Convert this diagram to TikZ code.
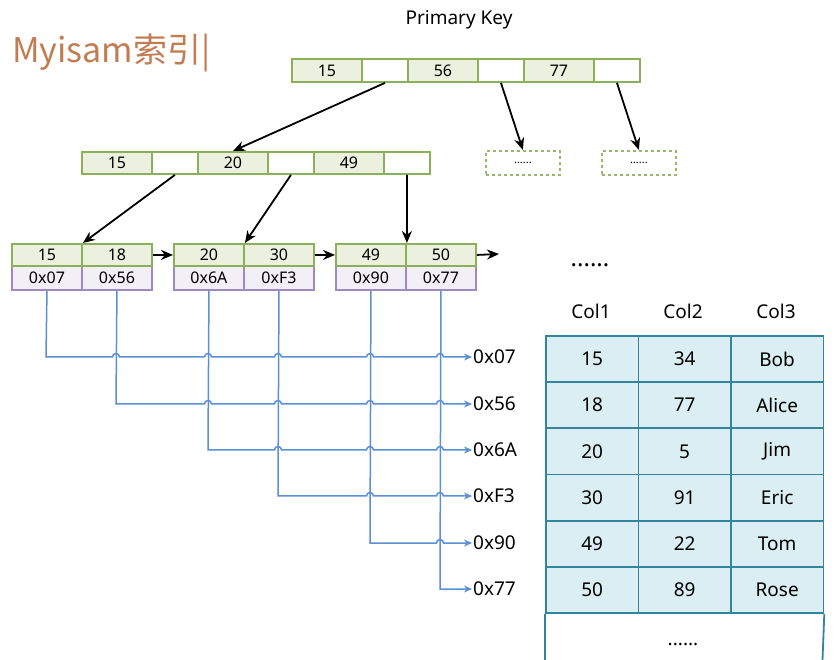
\documentclass[tikz,border=0pt]{standalone}
\usepackage{fontspec}
\setmainfont{Noto Sans}
\newfontfamily\cjk{Noto Sans CJK SC}
\usepackage{tikz}
\usetikzlibrary{arrows.meta}

\definecolor{kgreen}{HTML}{8CB05A}
\definecolor{kfill}{HTML}{EBF1DE}
\definecolor{apurple}{HTML}{9F8AC0}
\definecolor{afill}{HTML}{F2EFF7}
\definecolor{tborder}{HTML}{31859C}
\definecolor{tfill}{HTML}{DAEEF3}
\definecolor{pline}{HTML}{5B8FD6}
\definecolor{ttl}{HTML}{C27C52}

\tikzset{
  cell/.style={draw=kgreen, line width=1.9pt, anchor=north west, inner sep=0pt, minimum height=23pt, font=\fontsize{16}{16}\selectfont},
  kcell/.style={cell, fill=kfill, minimum width=70pt},
  pcell/.style={cell, fill=white, minimum width=46pt},
  lkcell/.style={cell, fill=kfill, minimum width=70pt, minimum height=22pt},
  acell/.style={cell, draw=apurple, fill=afill, minimum width=70pt, minimum height=24pt},
  dbox/.style={draw=kgreen!90, dashed, line width=1.8pt, anchor=north west, minimum width=74pt, minimum height=24pt, font=\fontsize{11}{11}\selectfont},
  tcell/.style={draw=tborder, line width=1.8pt, fill=tfill, anchor=north west, inner sep=0pt, minimum width=92.5pt, minimum height=46.2pt, font=\fontsize{19}{19}\selectfont},
  barrow/.style={line width=1.8pt, -{Stealth[length=12pt,width=10pt]}},
  bline/.style={draw=pline, line width=1.5pt, -{Stealth[length=8pt,width=7pt]}},
  addr/.style={anchor=west, inner sep=1pt, font=\fontsize{19}{19}\selectfont},
}

\begin{document}
\begin{tikzpicture}[x=1pt,y=1pt]
\useasboundingbox (0,0) rectangle (839,-660);

\node[anchor=base west, inner sep=0pt, text=ttl, font=\cjk\fontsize{34}{34}\selectfont] (T) at (12,-63) {Myisam索引|};
\node[font=\fontsize{19}{19}\selectfont] (PK) at (459,-20) {Primary Key};

% root and inner node
\path (291,-58) node[kcell] (R1) {15} +(70,0) node[pcell] (R2) {} +(116,0) node[kcell] (R3) {56} +(186,0) node[pcell] (R4) {} +(232,0) node[kcell] (R5) {77} +(302,0) node[pcell] (R6) {};
\path (81,-151) node[kcell,minimum height=22pt] (M1) {15} +(70,0) node[pcell,minimum height=22pt] (M2) {} +(116,0) node[kcell,minimum height=22pt] (M3) {20} +(186,0) node[pcell,minimum height=22pt] (M4) {} +(232,0) node[kcell,minimum height=22pt] (M5) {49} +(302,0) node[pcell,minimum height=22pt] (M6) {};
\node[dbox] (D1) at (485,-150) {......};
\node[dbox] (D2) at (601,-150) {......};

% leaves
\path (11,-265) node[acell] (LA1) {0x07} +(70,0) node[acell] (LA2) {0x56} +(162,0) node[acell] (LA3) {0x6A} +(232,0) node[acell] (LA4) {0xF3} +(324,0) node[acell] (LA5) {0x90} +(394,0) node[acell] (LA6) {0x77};
\path (11,-243) node[lkcell] (LK1) {15} +(70,0) node[lkcell] (LK2) {18} +(162,0) node[lkcell] (LK3) {20} +(232,0) node[lkcell] (LK4) {30} +(324,0) node[lkcell] (LK5) {49} +(394,0) node[lkcell] (LK6) {50};
\coordinate (NX) at (499,-254);
\node[font=\bfseries\fontsize{24}{24}\selectfont] (MORE) at (590,-265) {......};

\draw[barrow] (R2.south) -- (M3.north);
\draw[barrow] (R4.south) -- (D1.north);
\draw[barrow] (R6.south) -- (D2.north);
\draw[barrow] (M2.south) -- (LK1.north east);
\draw[barrow] (M4.south) -- (LK3.north east);
\draw[barrow] (M6.south) -- (LK5.north east);
\draw[barrow] (LK2.east) -- (LK3.west);
\draw[barrow] (LK4.east) -- (LK5.west);
\draw[barrow] (LK6.east) -- (NX);

% row addresses
\node[addr] (X1) at (472,-357) {0x07};
\node[addr] (X2) at (472,-404) {0x56};
\node[addr] (X3) at (472,-450) {0x6A};
\node[addr] (X4) at (472,-496) {0xF3};
\node[addr] (X5) at (472,-543) {0x90};
\node[addr] (X6) at (472,-589) {0x77};

\draw[bline] (LA1.south) -- (46,-357) \foreach \xx in {116,208,278,370,440} { -- (\xx-3.5,-357) arc[start angle=180,end angle=0,radius=3.5pt] } -- (X1.west);
\draw[bline] (LA2.south) -- (116,-404) \foreach \xx in {208,278,370,440} { -- (\xx-3.5,-404) arc[start angle=180,end angle=0,radius=3.5pt] } -- (X2.west);
\draw[bline] (LA3.south) -- (208,-450) \foreach \xx in {278,370,440} { -- (\xx-3.5,-450) arc[start angle=180,end angle=0,radius=3.5pt] } -- (X3.west);
\draw[bline] (LA4.south) -- (278,-496) \foreach \xx in {370,440} { -- (\xx-3.5,-496) arc[start angle=180,end angle=0,radius=3.5pt] } -- (X4.west);
\draw[bline] (LA5.south) -- (370,-543) \foreach \xx in {440} { -- (\xx-3.5,-543) arc[start angle=180,end angle=0,radius=3.5pt] } -- (X5.west);
\draw[bline] (LA6.south) -- (440,-589) -- (X6.west);

% table
\node[font=\fontsize{19}{19}\selectfont] (C1) at (591,-311) {Col1};
\node[font=\fontsize{19}{19}\selectfont] (C2) at (683,-311) {Col2};
\node[font=\fontsize{19}{19}\selectfont] (C3) at (776,-311) {Col3};
\path (545,-335) node[tcell] (T11) {15} +(92.5,0) node[tcell] (T12) {34} +(185,0) node[tcell] (T13) {Bob};
\path (545,-381.2) node[tcell] (T21) {18} +(92.5,0) node[tcell] (T22) {77} +(185,0) node[tcell] (T23) {Alice};
\path (545,-427.4) node[tcell] (T31) {20} +(92.5,0) node[tcell] (T32) {5} +(185,0) node[tcell] (T33) {Jim};
\path (545,-473.6) node[tcell] (T41) {30} +(92.5,0) node[tcell] (T42) {91} +(185,0) node[tcell] (T43) {Eric};
\path (545,-519.8) node[tcell] (T51) {49} +(92.5,0) node[tcell] (T52) {22} +(185,0) node[tcell] (T53) {Tom};
\path (545,-566) node[tcell] (T61) {50} +(92.5,0) node[tcell] (T62) {89} +(185,0) node[tcell] (T63) {Rose};
\draw[tborder, line width=1.8pt] (T61.south west) -- (545,-660);
\draw[tborder, line width=1.8pt] (T63.south east) -- (822.5,-660);
\node[font=\fontsize{19}{19}\selectfont] (DOTS) at (683,-644) {......};
\end{tikzpicture}
\end{document}
